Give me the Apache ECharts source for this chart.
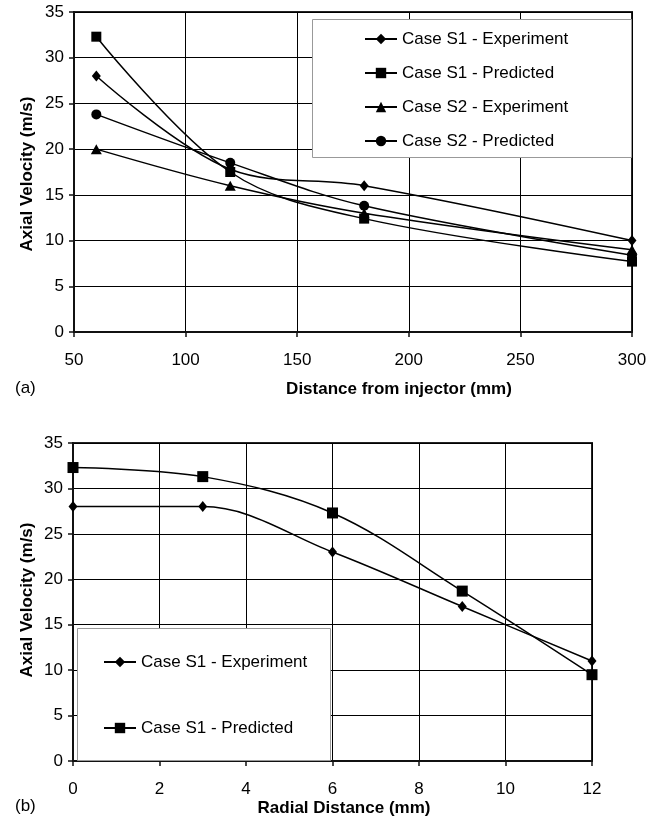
<!DOCTYPE html>
<html>
<head>
<meta charset="utf-8">
<script src="https://cdn.jsdelivr.net/npm/echarts@6/dist/echarts.min.js"></script>
<style>
  html, body { margin: 0; padding: 0; background: #fff; }
  #chart { width: 661px; height: 825px; }
</style>
</head>
<body>
<div id="chart"></div>
<script>
// (a) axial velocity along the injector axis
const distanceMm = [60, 120, 180, 300];
const s1Experiment = [28, 17.8, 16, 10];
const s1Predicted = [32.3, 17.5, 12.4, 7.7];
const s2Experiment = [20, 16, 13, 9];
const s2Predicted = [23.8, 18.5, 13.8, 8.4];
const distanceTicks = { min: 50, max: 300, step: 50 };

// (b) radial profile for case S1
const radialMm = [0, 3, 6, 9, 12];
const radialS1Experiment = [28, 28, 23, 17, 11];
const radialS1Predicted = [32.3, 31.3, 27.3, 18.7, 9.5];
const radialTicks = { min: 0, max: 12, step: 2 };

const velocityTicks = { min: 0, max: 35, step: 5 };

const FONT = '"Liberation Sans", Arial, sans-serif';

const pairs = (xs, ys) => xs.map((x, i) => [x, ys[i]]);

function xAxisFor(gridIndex, ticks) {
  return {
    type: 'value', gridIndex,
    min: ticks.min, max: ticks.max, interval: ticks.step,
    axisLine: { show: true, lineStyle: { color: '#111', width: 2 } },
    axisTick: { show: true, length: 5, lineStyle: { color: '#111', width: 1.5 } },
    axisLabel: { color: '#000', fontSize: 17, fontFamily: FONT, margin: 20 },
    splitLine: { show: true, lineStyle: { color: '#000', width: 1 } }
  };
}
function yAxisFor(gridIndex) {
  return {
    type: 'value', gridIndex,
    min: velocityTicks.min, max: velocityTicks.max, interval: velocityTicks.step,
    axisLine: { show: true, lineStyle: { color: '#111', width: 2 } },
    axisTick: { show: true, length: 5, lineStyle: { color: '#111', width: 1.5 } },
    axisLabel: { color: '#000', fontSize: 17, fontFamily: FONT, margin: 10 },
    splitLine: { show: true, lineStyle: { color: '#000', width: 1 } }
  };
}
function lineSeries(name, axisIndex, data, symbol, size) {
  return {
    name, type: 'line', xAxisIndex: axisIndex, yAxisIndex: axisIndex,
    data, smooth: 0.35, symbol, symbolSize: size, showAllSymbol: true,
    lineStyle: { color: '#000', width: 1.5 },
    itemStyle: { color: '#000' },
    emphasis: { disabled: true },
    z: 2
  };
}

const legendBase = {
  orient: 'vertical',
  padding: 0,
  itemWidth: 32, itemHeight: 13,
  textStyle: { color: '#000', fontSize: 17, fontFamily: FONT, lineHeight: 20 },
  selectedMode: false,
  z: 6
};

const chart = echarts.init(document.getElementById('chart'), null, { renderer: 'canvas' });
chart.setOption({
  animation: false,
  backgroundColor: '#fff',
  grid: [
    { left: 74, top: 12, width: 558, height: 320, show: true, borderColor: '#222', borderWidth: 2, backgroundColor: 'transparent' },
    { left: 73, top: 443, width: 519, height: 318, show: true, borderColor: '#222', borderWidth: 2, backgroundColor: 'transparent' }
  ],
  xAxis: [xAxisFor(0, distanceTicks), xAxisFor(1, radialTicks)],
  yAxis: [yAxisFor(0), yAxisFor(1)],
  legend: [
    Object.assign({}, legendBase, {
      left: 364, top: 29, itemGap: 14,
      data: ['Case S1 - Experiment', 'Case S1 - Predicted', 'Case S2 - Experiment', 'Case S2 - Predicted']
    }),
    Object.assign({}, legendBase, {
      left: 103, top: 652, itemGap: 46,
      data: ['Case S1 - Experiment', 'Case S1 - Predicted']
    })
  ],
  graphic: [
    { type: 'rect', z: 5, shape: { x: 312.5, y: 19.5, width: 319, height: 138 },
      style: { fill: '#fff', stroke: '#999', lineWidth: 1 } },
    { type: 'rect', z: 5, shape: { x: 77.5, y: 628.5, width: 253, height: 132 },
      style: { fill: '#fff', stroke: '#999', lineWidth: 1 } },
    { type: 'text', z: 6, left: 15, top: 380,
      style: { text: '(a)', fill: '#000', font: '17px ' + FONT } },
    { type: 'text', z: 6, left: 15, top: 798,
      style: { text: '(b)', fill: '#000', font: '17px ' + FONT } },
    { type: 'text', z: 6, x: 399, y: 389,
      style: { text: 'Distance from injector (mm)', fill: '#000', font: 'bold 17px ' + FONT, align: 'center', verticalAlign: 'middle' } },
    { type: 'text', z: 6, x: 344, y: 808,
      style: { text: 'Radial Distance (mm)', fill: '#000', font: 'bold 17px ' + FONT, align: 'center', verticalAlign: 'middle' } },
    { type: 'text', z: 6, x: 27, y: 174, rotation: Math.PI / 2,
      style: { text: 'Axial Velocity (m/s)', fill: '#000', font: 'bold 17px ' + FONT, align: 'center', verticalAlign: 'middle' } },
    { type: 'text', z: 6, x: 27, y: 600, rotation: Math.PI / 2,
      style: { text: 'Axial Velocity (m/s)', fill: '#000', font: 'bold 17px ' + FONT, align: 'center', verticalAlign: 'middle' } }
  ],
  series: [
    lineSeries('Case S1 - Experiment', 0, pairs(distanceMm, s1Experiment), 'diamond', [9, 11]),
    lineSeries('Case S1 - Predicted', 0, pairs(distanceMm, s1Predicted), 'rect', 10),
    lineSeries('Case S2 - Experiment', 0, pairs(distanceMm, s2Experiment), 'triangle', [11, 10]),
    lineSeries('Case S2 - Predicted', 0, pairs(distanceMm, s2Predicted), 'circle', 10),
    lineSeries('Case S1 - Experiment', 1, pairs(radialMm, radialS1Experiment), 'diamond', [9, 11]),
    lineSeries('Case S1 - Predicted', 1, pairs(radialMm, radialS1Predicted), 'rect', 11)
  ]
});
</script>
</body>
</html>
